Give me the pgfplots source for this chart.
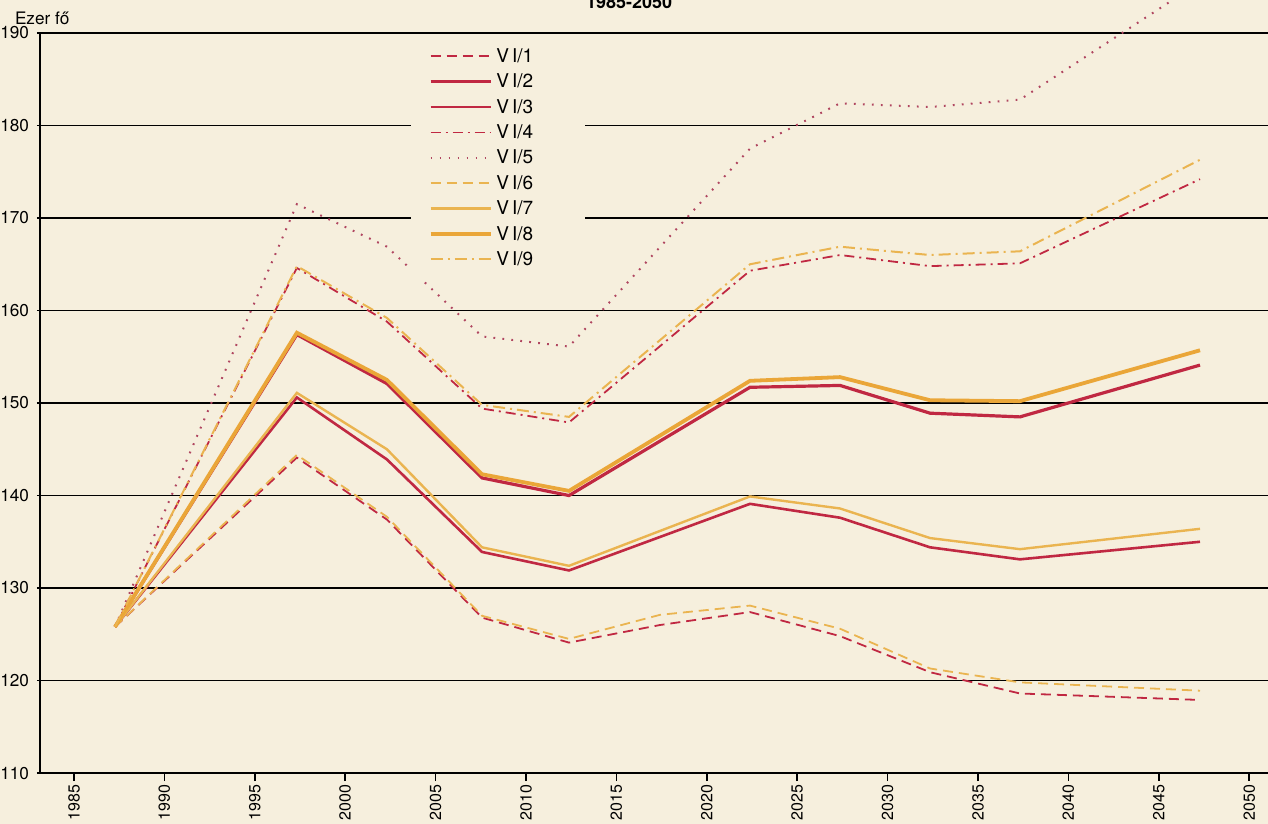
\documentclass[border=0pt]{standalone}
\usepackage{fontspec}
\setmainfont{TeX Gyre Heros}
\usepackage{pgfplots}
\pgfplotsset{compat=1.18}
\usetikzlibrary{backgrounds}

\definecolor{paper}{RGB}{246,239,221}
\definecolor{redc}{RGB}{192,40,66}
\definecolor{dotc}{RGB}{176,70,96}
\definecolor{yelc}{RGB}{234,180,80}
\definecolor{yelthick}{RGB}{234,166,56}

% legend label, padded on the right like the original box
\newcommand\leg[1]{V\kern1.5pt I/#1\rule{15pt}{0pt}}

\begin{document}
\begin{tikzpicture}
\begin{axis}[
    scale only axis,
    width=614pt, height=370pt,
    xmin=1983.12, xmax=2051.04,
    ymin=110, ymax=190,
    clip=false,
    axis x line=bottom, axis y line=left,
    axis line style={black, line width=1pt, -},
    xtick={1985,1990,...,2050},
    ytick={110,120,...,190},
    x tick label style={/pgf/number format/1000 sep={}, rotate=90, anchor=east,
        inner xsep=1.5pt, font=\fontsize{8}{10}\selectfont},
    y tick label style={inner xsep=1pt, font=\fontsize{8.6}{10}\selectfont},
    /pgf/number format/assume math mode=true,
    xtick align=outside, ytick align=outside,
    major x tick style={black, line width=0.8pt},
    major y tick style={black, line width=0.8pt},
    x tick style={/pgfplots/major tick length=4pt},
    y tick style={/pgfplots/major tick length=1.5pt},
    ymajorgrids=true,
    grid style={black, line width=0.65pt},
    legend cell align=left,
    legend image code/.code={\draw[#1] (0pt,0pt) -- (30pt,0pt);},
    legend style={at={(axis cs:2003.6,189.6)}, anchor=north west,
        fill=paper, draw=none, font=\fontsize{9.5}{10}\selectfont,
        inner xsep=9pt, inner ysep=4pt, row sep=1.6pt,
        nodes={inner ysep=2pt, text height=6.6pt, text depth=0.5pt}},
]
\addplot[redc, line width=0.9pt, dash pattern=on 5pt off 3pt] coordinates {
 (1987.27,125.8) (1997.33,144.1) (2002.31,137.4) (2007.57,126.8) (2012.38,124.1) (2017.41,126.0)
 (2022.39,127.4) (2027.37,124.8) (2032.35,120.9) (2037.32,118.6) (2047.28,117.9)};
\addlegendentry{\leg{1}}
\addplot[redc, line width=1.6pt] coordinates {
 (1987.27,125.8) (1997.33,157.4) (2002.31,152.1) (2007.57,141.9) (2012.38,140.0)
 (2022.39,151.7) (2027.37,151.9) (2032.35,148.9) (2037.32,148.5) (2047.28,154.1)};
\addlegendentry{\leg{2}}
\addplot[redc, line width=1.3pt] coordinates {
 (1987.27,125.8) (1997.33,150.6) (2002.31,143.9) (2007.57,133.9) (2012.38,131.9)
 (2022.39,139.1) (2027.37,137.6) (2032.35,134.4) (2037.32,133.1) (2047.28,135.0)};
\addlegendentry{\leg{3}}
\addplot[redc, line width=0.9pt, dash pattern=on 5pt off 2.5pt on 1pt off 2.5pt] coordinates {
 (1987.27,125.8) (1997.33,164.6) (2002.31,158.8) (2007.57,149.4) (2012.38,147.9)
 (2022.39,164.3) (2027.37,166.0) (2032.35,164.8) (2037.32,165.1) (2047.28,174.2)};
\addlegendentry{\leg{4}}
\addplot[dotc, line width=1pt, dash pattern=on 0.9pt off 3.6pt] coordinates {
 (1987.27,125.8) (1997.33,171.5) (2002.31,166.9) (2007.57,157.2) (2012.38,156.1)
 (2022.39,177.5) (2027.37,182.4) (2032.35,182.0) (2037.32,182.8) (2047.28,195.5)};
\addlegendentry{\leg{5}}
\addplot[yelc, line width=0.9pt, dash pattern=on 5pt off 3pt] coordinates {
 (1987.27,125.8) (1997.33,144.4) (2002.31,137.7) (2007.57,127.0) (2012.38,124.5) (2017.41,127.1)
 (2022.39,128.1) (2027.37,125.6) (2032.35,121.3) (2037.32,119.8) (2047.28,118.9)};
\addlegendentry{\leg{6}}
\addplot[yelc, line width=1.2pt] coordinates {
 (1987.27,125.8) (1997.33,151.1) (2002.31,145.0) (2007.57,134.4) (2012.38,132.4)
 (2022.39,139.9) (2027.37,138.6) (2032.35,135.4) (2037.32,134.2) (2047.28,136.4)};
\addlegendentry{\leg{7}}
\addplot[yelthick, line width=1.9pt] coordinates {
 (1987.27,125.8) (1997.33,157.6) (2002.31,152.5) (2007.57,142.3) (2012.38,140.5)
 (2022.39,152.4) (2027.37,152.8) (2032.35,150.3) (2037.32,150.2) (2047.28,155.7)};
\addlegendentry{\leg{8}}
\addplot[yelc, line width=1pt, dash pattern=on 6pt off 2.5pt on 1pt off 2.5pt] coordinates {
 (1987.27,125.8) (1997.33,164.8) (2002.31,159.2) (2007.57,149.8) (2012.38,148.5)
 (2022.39,165.0) (2027.37,166.9) (2032.35,166.0) (2037.32,166.4) (2047.28,176.3)};
\addlegendentry{\leg{9}}

\node[anchor=base west, font=\fontsize{8.6}{10}\selectfont] at (axis cs:1981.35,190.97) {Ezer fő};
\node[anchor=base, font=\bfseries\fontsize{9}{10}\selectfont] at (axis cs:2015.7,192.7) {1985-2050};
\coordinate (bl) at (axis cs:1980.91,104.5);
\coordinate (tr) at (axis cs:2051.04,193.57);
\end{axis}
\begin{pgfonlayer}{background}
\fill[paper] (bl) rectangle (tr);
\end{pgfonlayer}
\pgfresetboundingbox
\useasboundingbox (bl) rectangle (tr);
\end{tikzpicture}
\end{document}
